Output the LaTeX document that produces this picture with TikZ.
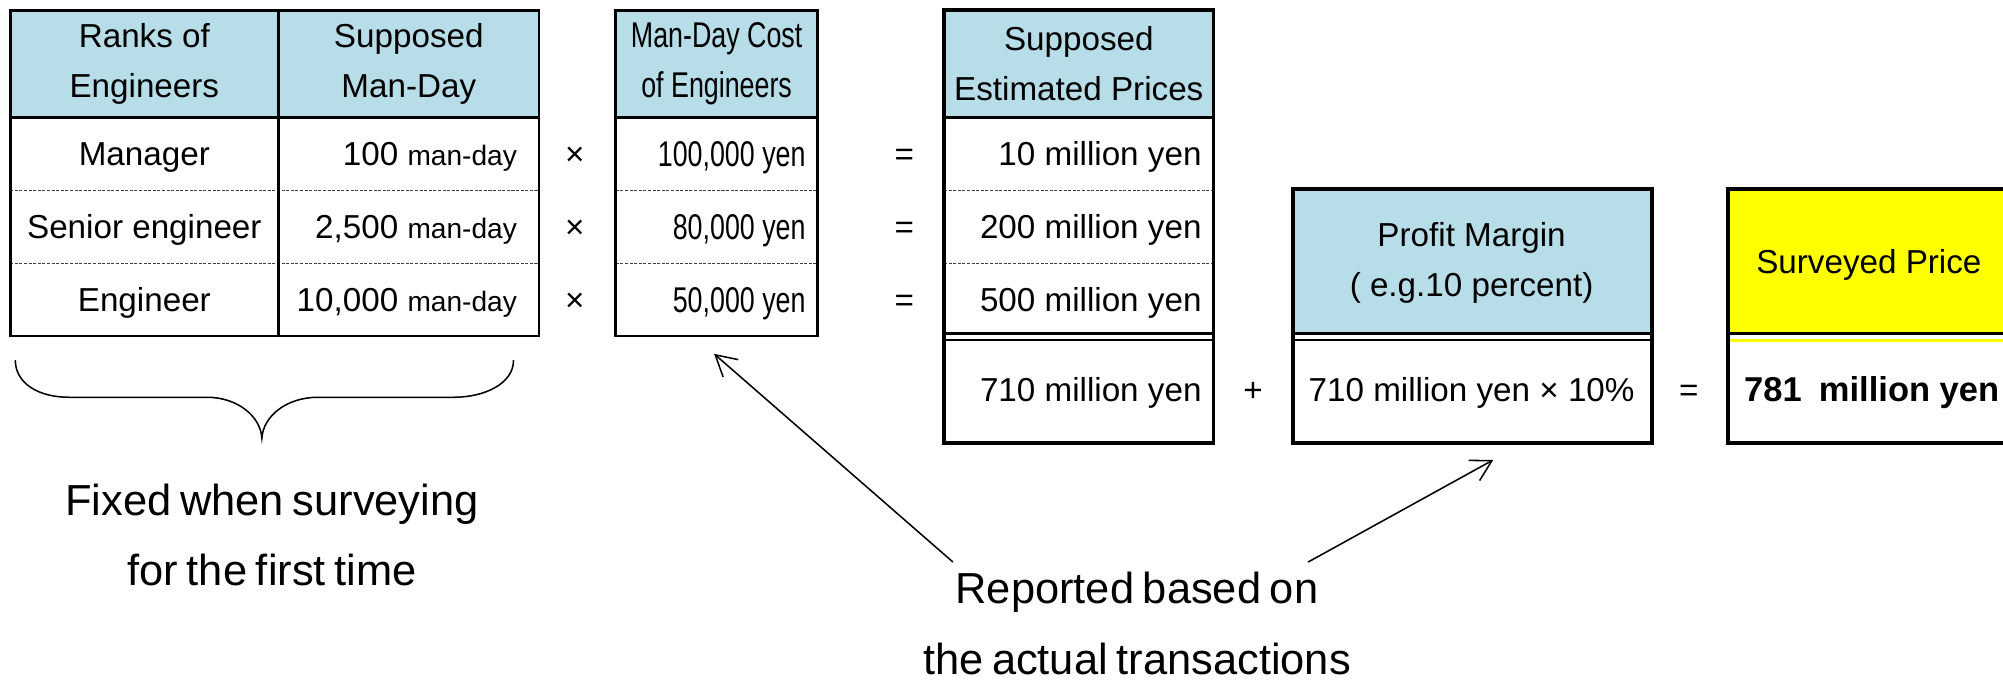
\documentclass[tikz,border=0pt]{standalone}
\usepackage{fontspec}
\setmainfont{Liberation Sans}
\newfontfamily\narrowfont[FakeStretch=0.75]{Liberation Sans}
\usetikzlibrary{arrows.meta}
\definecolor{hdrblue}{HTML}{B7DDE8}
\definecolor{yel}{HTML}{FFFF00}
\tikzset{
  tfont/.style={font=\fontsize{13}{19.5}\selectfont},
  nfont/.style={font=\narrowfont\fontsize{14}{19.5}\selectfont},
  cell/.style={tfont, inner sep=0pt, text height=9.4pt, text depth=0pt},
  ncell/.style={inner sep=0pt, nfont, text height=10.1pt, text depth=0pt},
  hdr/.style={tfont, inner sep=0pt, align=center},
  nhdr/.style={hdr, nfont},
  border/.style={line width=1.1pt},
  bborder/.style={line width=1.5pt},
  divider/.style={line width=0.8pt},
  dline/.style={line width=0.9pt},
  rowdash/.style={line width=0.5pt, dash pattern=on 1.2pt off 0.6pt, black!75},
  note/.style={font=\fontsize{17}{27.5}\selectfont, align=center, inner sep=0pt},
  callout/.style={line width=0.6pt, -{Straight Barb[length=8pt,width=9pt,line width=0.6pt]}},
  bracepath/.style={line width=0.6pt},
}
\newcommand{\md}{{\fontsize{11}{13}\selectfont man-day}}
\newcommand{\tightsp}{\spaceskip=0.2em plus 0.05em\relax}
\begin{document}
\begin{tikzpicture}[x=0.5pt,y=-0.5pt]
\useasboundingbox (0,0) rectangle (1568,533);
\clip (0,0) rectangle (1568,533);
% fills
\fill[hdrblue] (8,8) rectangle (422,92);
\fill[hdrblue] (482,8) rectangle (640,92);
\fill[hdrblue] (739,8) rectangle (950,92);
\fill[hdrblue] (1012,148) rectangle (1293,261);
\fill[yel] (1353,148) rectangle (1580,261);
% table 1
\draw[rowdash] (8,149) -- (422,149) (8,206) -- (422,206);
\draw[divider] (218,8) -- (218,263) (8,92) -- (422,92);
\draw[border] (8,8) rectangle (422,263);
% table 2
\draw[rowdash] (482,149) -- (640,149) (482,206) -- (640,206);
\draw[divider] (482,92) -- (640,92);
\draw[border] (482,8) rectangle (640,263);
% table 3
\draw[rowdash] (739,149) -- (950,149) (739,206) -- (950,206);
\draw[divider] (739,92) -- (950,92);
\draw[dline] (739,261) -- (950,261) (739,266) -- (950,266);
\draw[bborder] (739,8) rectangle (950,347);
% profit margin box
\draw[dline] (1012,261) -- (1293,261) (1012,266) -- (1293,266);
\draw[bborder] (1012,148) rectangle (1293,347);
% surveyed price box
\draw[dline] (1353,261) -- (1580,261);
\draw[dline, yel] (1353,266.5) -- (1580,266.5);
\draw[bborder] (1353,148) rectangle (1574,347);

% headers
\node[hdr] (h1) at (113,50) {Ranks of\\Engineers};
\node[hdr] (h2) at (320,50) {Supposed\\Man-Day};
\node[nhdr] (h3) at (561,50) {Man-Day Cost\\of Engineers};
\node[hdr] (h4) at (844.5,50) {Supposed\\Estimated Prices};
\node[hdr] (h5) at (1152,205.5) {Profit Margin\\(\ e.g.10 percent)};
\node[cell] (h6) at (1463,205) {Surveyed Price};

% table 1 rows
\node[cell] (r1) at (113,120.5) {Manager};
\node[cell] (r2) at (113,177.5) {Senior engineer};
\node[cell] (r3) at (113,234.5) {Engineer};
\node[cell, anchor=east] (d1) at (405,120.5) {100 \md};
\node[cell, anchor=east] (d2) at (405,177.5) {2,500 \md};
\node[cell, anchor=east] (d3) at (405,234.5) {10,000 \md};
% operators
\node[cell] (x1) at (450,120.5) {×};
\node[cell] (x2) at (450,177.5) {×};
\node[cell] (x3) at (450,234.5) {×};
\node[ncell, anchor=east] (c1) at (631,120.5) {100,000 yen};
\node[ncell, anchor=east] (c2) at (631,177.5) {80,000 yen};
\node[ncell, anchor=east] (c3) at (631,234.5) {50,000 yen};
\node[cell] (e1) at (708,120.5) {=};
\node[cell] (e2) at (708,177.5) {=};
\node[cell] (e3) at (708,234.5) {=};
\node[cell, anchor=east] (p1) at (941,120.5) {10 million yen};
\node[cell, anchor=east] (p2) at (941,177.5) {200 million yen};
\node[cell, anchor=east] (p3) at (941,234.5) {500 million yen};
\node[cell, anchor=east] (p4) at (941,305) {710 million yen};
\node[cell] (plus) at (981,305) {+};
\node[cell] (m1) at (1152,305) {710 million yen × 10\%};
\node[cell] (eq) at (1322,305) {=};
\node[cell, anchor=west, font=\fontsize{13.5}{19.5}\selectfont\bfseries] (tot) at (1365,305) {781\hspace{0.5em}million yen};

% brace
\draw[bracepath] (12,282) .. controls (12,300) and (30,311) .. (54,311) -- (162,311)
  .. controls (186,311) and (204,326) .. (205,343)
  .. controls (206,326) and (224,311) .. (249,311) -- (355,311)
  .. controls (380,311) and (402,300) .. (402,282);

% notes
\node[note] (fix) at (213,419) {\tightsp Fixed when surveying\\\tightsp for the first time};
\node[note] (rep) at (890,488) {\tightsp Reported based on\\\tightsp the actual transactions};

% callouts
\coordinate (a1tail) at (746,440);
\coordinate (a1tip) at (559,277);
\coordinate (a2tail) at (1024,440);
\coordinate (a2tip) at (1169,360);
\draw[callout] (a1tail) -- (a1tip);
\draw[callout] (a2tail) -- (a2tip);
\end{tikzpicture}
\end{document}
